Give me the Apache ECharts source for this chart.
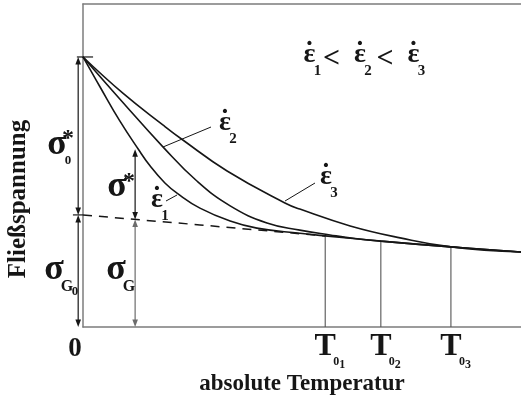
<!DOCTYPE html>
<html lang="de">
<head>
<meta charset="utf-8">
<title>Fließspannung</title>
<script src="https://cdn.jsdelivr.net/npm/echarts@6.0.0/dist/echarts.min.js"></script>
<style>
html,body{margin:0;padding:0;background:#fff;}
#chart{width:521px;height:398px;}
</style>
</head>
<body>
<div id="chart"></div>
<script>
// Temperature and stress are both on arbitrary 0..100 scales.

// Athermal stress sigma_G(T) (dashed part, up to T01)
const baseT = [0, 26.7, 55.3];
const baseS = [34.7, 31.6, 28.2];

// Flow stress for strain rate 1 (lowest)
const rate1T = [0, 3.9, 8.4, 12.6, 15.3, 18.7, 21.7, 26.7, 33.6, 39.7, 49.5, 55.3, 68.0, 84.0, 100];
const rate1S = [83.6, 74.3, 63.8, 55.1, 49.9, 44.6, 41.2, 36.8, 32.8, 30.6, 29.0, 28.2, 26.6, 24.8, 23.2];
// Flow stress for strain rate 2
const rate2T = [0, 8.4, 18.3, 26.0, 33.6, 42.0, 49.5, 56.4, 62.1, 68.0, 84.0, 100];
const rate2S = [83.6, 70.6, 55.7, 45.2, 37.5, 32.2, 30.0, 28.5, 27.4, 26.6, 24.8, 23.2];
// Flow stress for strain rate 3 (highest)
const rate3T = [0, 9.1, 18.3, 22.8, 32.9, 46.1, 49.5, 61.0, 72.4, 84.0, 100];
const rate3S = [83.6, 72.4, 62.5, 57.9, 48.3, 38.4, 36.5, 31.3, 27.6, 24.8, 23.2];

// Transition temperatures T0 and sigma_G reached there
const t0Values = [55.3, 68.0, 84.0];
const t0Stress = [28.2, 26.6, 24.8];
const t0Subs = ['1', '2', '3'];

// Stress levels at T = 0
const sigma0 = 83.6;
const sigmaG0 = 34.7;
// Sample temperature where sigma* and sigma_G are marked
const sampleT = 11.9;
const sampleStress = 55.0;
const sampleG = 33.3;

// Dimension arrows: position, lower end, upper end, grey flag
const arrowT = [-1.1, -1.1, sampleT, sampleT];
const arrowLow = [sigmaG0, 0, sampleG, 0];
const arrowHigh = [sigma0, sigmaG0, sampleStress, sampleG];
const arrowGrey = [0, 0, 0, 1];

// Short level marks at the stress axis: from, to, level
const levelFrom = [-1.4, -2.3];
const levelTo = [2.3, 0];
const levelAt = [sigma0, sigmaG0];

const zip = (a, b) => a.map((v, i) => [v, b[i]]);
const INK = '#161616';
const FRAME = '#7c7c7c';
const FONT = '"Liberation Serif","Times New Roman",serif';

function renderDrop(params, api) {
  const top = api.coord([api.value(0), api.value(1)]);
  const bot = api.coord([api.value(0), 0]);
  return { type: 'line', shape: { x1: top[0], y1: top[1], x2: bot[0], y2: bot[1] },
           style: { stroke: '#555', lineWidth: 1.1 } };
}

function renderArrow(params, api) {
  const x = api.value(0);
  const p = api.coord([x, api.value(2)]);
  const q = api.coord([x, api.value(1)]);
  const col = api.value(3) ? '#6c6c6c' : INK;
  const hw = 2.8, hl = 7.5;
  return { type: 'group', children: [
    { type: 'line', shape: { x1: p[0], y1: p[1] + 3, x2: q[0], y2: q[1] - 3 }, style: { stroke: col, lineWidth: 1.2 } },
    { type: 'polygon', shape: { points: [[p[0], p[1]], [p[0] - hw, p[1] + hl], [p[0] + hw, p[1] + hl]] }, style: { fill: col } },
    { type: 'polygon', shape: { points: [[q[0], q[1]], [q[0] - hw, q[1] - hl], [q[0] + hw, q[1] - hl]] }, style: { fill: col } }
  ] };
}

function renderLevel(params, api) {
  const a = api.coord([api.value(0), api.value(2)]);
  const b = api.coord([api.value(1), api.value(2)]);
  return { type: 'line', shape: { x1: a[0], y1: a[1], x2: b[0], y2: b[1] }, style: { stroke: INK, lineWidth: 1.2 } };
}

const curveStyle = { color: INK, width: 1.6 };
function curve(t, s) {
  return { type: 'line', data: zip(t, s), smooth: 0.45, symbol: 'none',
           lineStyle: curveStyle, silent: true, z: 3, animation: false };
}

const axisCommon = {
  type: 'value', min: 0, max: 100,
  axisLine: { show: true, onZero: false, lineStyle: { color: FRAME, width: 1.5 } },
  axisTick: { show: false }, axisLabel: { show: false }, splitLine: { show: false }
};

const chart = echarts.init(document.getElementById('chart'));
chart.setOption({
  animation: false,
  backgroundColor: '#fff',
  grid: { left: 83, right: 0, top: 4, bottom: 71 },
  xAxis: [Object.assign({ position: 'bottom' }, axisCommon), Object.assign({ position: 'top' }, axisCommon)],
  yAxis: Object.assign({ position: 'left' }, axisCommon),
  series: [
    curve(rate1T, rate1S),
    curve(rate2T, rate2S),
    curve(rate3T, rate3S),
    { type: 'line', data: zip(baseT, baseS), symbol: 'none', silent: true, animation: false,
      lineStyle: { color: INK, width: 1.5, type: [9, 7] } },
    { type: 'custom', clip: false, silent: true, renderItem: renderDrop, data: zip(t0Values, t0Stress) },
    { type: 'custom', clip: false, silent: true, renderItem: renderArrow,
      data: arrowT.map((t, i) => [t, arrowLow[i], arrowHigh[i], arrowGrey[i]]) },
    { type: 'custom', clip: false, silent: true, renderItem: renderLevel,
      data: levelFrom.map((f, i) => [f, levelTo[i], levelAt[i]]) }
  ]
});

function label(x, y, text, size, extra) {
  return Object.assign({ type: 'text', x: x, y: y, silent: true, z: 10,
    style: { text: text, font: 'bold ' + size + 'px ' + FONT, fill: INK,
             align: 'center', verticalAlign: 'middle', textAlign: 'center', textVerticalAlign: 'middle' } }, extra || {});
}
function leader(x1, y1, x2, y2) {
  return { type: 'line', silent: true, z: 10, shape: { x1: x1, y1: y1, x2: x2, y2: y2 }, style: { stroke: INK, lineWidth: 1 } };
}
// strain rate symbol: epsilon with a dot above, plus its index
function rate(x, y, sub) {
  return [label(x, y, 'ε', 28), label(x, y - 2, '˙', 28), label(x + 8, y + 16, sub, 15)];
}

const g = [
  label(75, 349, '0', 27),
  label(302, 384, 'absolute Temperatur', 23),
  label(19, 199, 'Fließspannung', 25, { rotation: Math.PI / 2 }),
  // sigma0*
  label(57, 145, 'σ', 36), label(68, 139, '*', 24), label(68, 161, '0', 13),
  // sigma*
  label(117, 187, 'σ', 36), label(129, 182, '*', 24),
  // sigmaG0
  label(54, 270, 'σ', 36), label(67, 287, 'G', 16), label(75, 292, '0', 13),
  // sigmaG
  label(116, 270, 'σ', 36), label(129, 287, 'G', 16),
  leader(166, 201, 177, 195), leader(211, 127, 163, 147), leader(315, 183, 285, 201),
  label(331.5, 59, '<', 30), label(385, 59, '<', 30)
].concat(
  rate(157, 200, '1'), rate(225, 123, '2'), rate(326, 177, '3'),
  rate(309.5, 55, '1'), rate(360, 55, '2'), rate(413.5, 55, '3')
);
t0Values.forEach(function (t, i) {
  const px = chart.convertToPixel({ gridIndex: 0 }, [t, 0])[0];
  g.push(label(px, 347, 'T', 32), label(px + 11, 362, '0', 12), label(px + 17, 365, t0Subs[i], 12));
});
chart.setOption({ graphic: { elements: g } });
</script>
</body>
</html>
